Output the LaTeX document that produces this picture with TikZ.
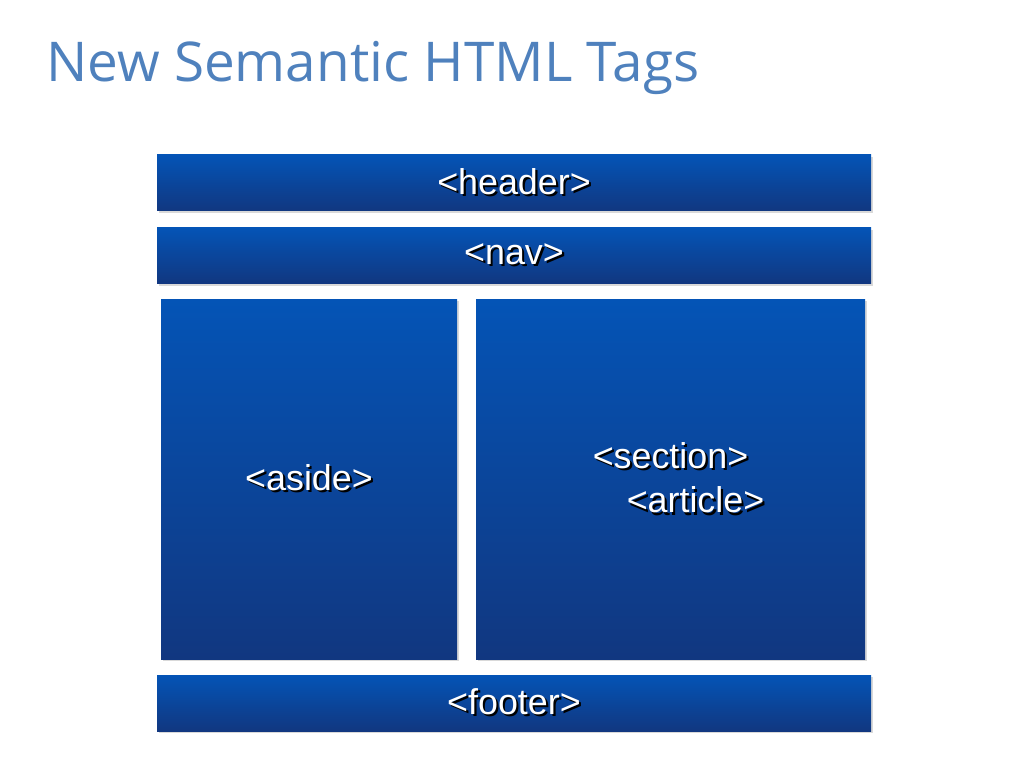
\documentclass[tikz,border=0pt]{standalone}
\usepackage{fontspec}
\setmainfont{Liberation Sans}
\newfontfamily\titlefont{Open Sans}
\usetikzlibrary{positioning, shadows}
\definecolor{titleblue}{HTML}{4F81BD}
\definecolor{boxtop}{HTML}{0454B6}
\definecolor{boxbot}{HTML}{113780}
\tikzset{tagbox/.style={rectangle, top color=boxtop, bottom color=boxbot, draw=none,
    drop shadow={opacity=0.3, shadow xshift=0.05cm, shadow yshift=-0.05cm},
    text=white, font=\fontsize{25.5}{31}\selectfont, inner sep=0pt}}
\newcommand{\tagtext}[1]{\makebox[0pt][l]{\hspace{1.5pt}\raisebox{-1.5pt}{\color{black}#1}}#1}

\begin{document}
\begin{tikzpicture}
    \useasboundingbox (0,0) rectangle (25.6,-19.2);
    \node [anchor=base west, text=titleblue, inner sep=0pt, font=\titlefont\fontsize{39}{47}\selectfont] (title) at (1.15,-2.03) {New Semantic HTML Tags};
    \node [tagbox, minimum width=17.85cm, minimum height=1.4cm] (header) at (12.85,-4.575) {\tagtext{<header>}};
    \node [tagbox, minimum width=17.85cm, minimum height=1.4cm, below=0.4cm of header] (nav) {\tagtext{<nav>}};
    \node [tagbox, minimum width=7.4cm, minimum height=9cm] (aside) at (7.725,-11.975) {\tagtext{<aside>}};
    \node [tagbox, minimum width=9.725cm, minimum height=9cm] (section) at (16.7625,-11.975) {};
    \node [text=white, font=\fontsize{25.5}{31}\selectfont, align=left, inner sep=0pt, xshift=0.2cm] (sectext) at (section.center) {\tagtext{<section>}\\[0.02cm]\hspace{0.85cm}\tagtext{<article>}};
    \node [tagbox, minimum width=17.85cm, minimum height=1.4cm] (footer) at (12.85,-17.575) {\tagtext{<footer>}};
\end{tikzpicture}
\end{document}
